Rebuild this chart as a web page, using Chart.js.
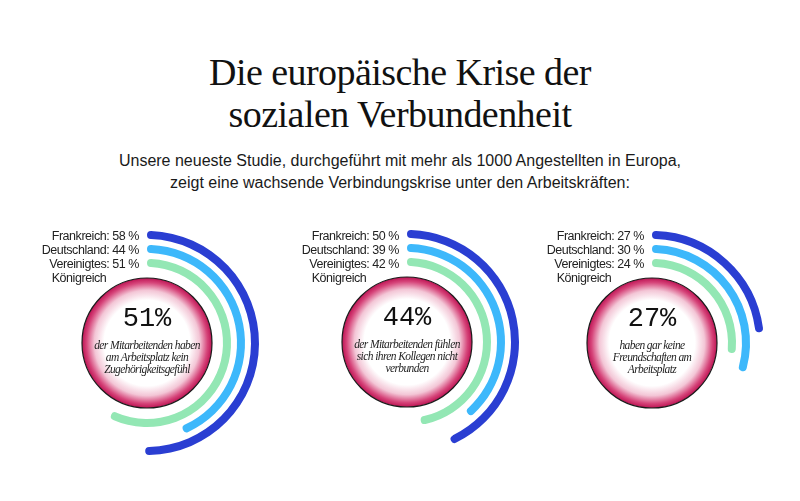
<!DOCTYPE html>
<html>
<head>
<meta charset="utf-8">
<script src="https://cdn.jsdelivr.net/npm/chart.js@4.4.0/dist/chart.umd.min.js"></script>
<style>
  html, body { margin: 0; padding: 0; background: #fff; }
  body { width: 800px; height: 501px; position: relative; overflow: hidden; }
  #title { position: absolute; left: 0; width: 800px; top: 51px; text-align: center;
    font-family: "Liberation Serif", "DejaVu Serif", serif; font-size: 38px; line-height: 42px;
    color: #111; letter-spacing: -0.55px; }
  #subtitle { position: absolute; left: 0; width: 800px; top: 150px; text-align: center;
    font-family: "Liberation Sans", Arial, sans-serif; font-size: 16px; line-height: 21.5px; color: #1a1a1a; }
  .chartbox { position: absolute; width: 240px; height: 240px; }
  .labels { position: absolute; font-family: "Liberation Sans", Arial, sans-serif; font-size: 12.5px;
    line-height: 14px; color: #222; white-space: nowrap; letter-spacing: -0.45px; }
  .labels .row { text-align: right; }
  .big { position: absolute; width: 120px; text-align: center; font-family: "Liberation Mono", monospace;
    font-size: 27px; line-height: 27px; color: #111; }
  .desc { position: absolute; width: 130px; text-align: center; font-family: "Liberation Serif", serif;
    font-style: italic; font-size: 11.5px; line-height: 12px; color: #222; letter-spacing: -0.6px; }
</style>
</head>
<body>
<div id="title">Die europäische Krise der<br>sozialen Verbundenheit</div>
<div id="subtitle">Unsere neueste Studie, durchgeführt mit mehr als 1000 Angestellten in Europa,<br>zeigt eine wachsende Verbindungskrise unter den Arbeitskräften:</div>
<script>
// ---- data ----
const countries = ['Frankreich', 'Deutschland', 'Vereinigtes Königreich'];
const belongingValues = [58, 44, 51];     // kein Zugehörigkeitsgefühl
const colleagueValues = [50, 39, 42];     // Kollegen nicht verbunden
const friendshipValues = [27, 30, 24];    // keine Freundschaften
const headlineValues = [51, 44, 27];
const descriptionLines = [
  ['der Mitarbeitenden haben', 'am Arbeitsplatz kein', 'Zugehörigkeitsgefühl'],
  ['der Mitarbeitenden fühlen', 'sich ihren Kollegen nicht', 'verbunden'],
  ['haben gar keine', 'Freundschaften am', 'Arbeitsplatz']
];
const seriesValues = [belongingValues, colleagueValues, friendshipValues];

// ---- style ----
const ringColors = ['#2a3ed2', '#3db8fb', '#93e7b4'];
const ringSweep = [312, 358, 405];   // degrees that 100 % spans on each ring
const centers = [[147, 343], [407, 342], [652, 343]];
const OUTER = 112, INNER = 76, RING = 8, GAP = 6, DISC = 65;

const discPlugin = {
  id: 'disc',
  beforeDatasetsDraw(chart) {
    const arc = chart.getDatasetMeta(0).data[0];
    const x = arc.x, y = arc.y, r = DISC;
    const ctx = chart.ctx;
    const g = ctx.createRadialGradient(x, y, 0, x, y, r);
    g.addColorStop(0, '#ffffff');
    g.addColorStop(0.66, '#ffffff');
    g.addColorStop(0.81, '#f3c6d6');
    g.addColorStop(0.93, '#d6457a');
    g.addColorStop(1, '#bd1454');
    ctx.save();
    ctx.beginPath();
    ctx.arc(x, y, r, 0, Math.PI * 2);
    ctx.fillStyle = g;
    ctx.fill();
    ctx.lineWidth = 1.2;
    ctx.strokeStyle = '#1b1b1b';
    ctx.stroke();
    ctx.restore();
  }
};

seriesValues.forEach((vals, gi) => {
  const [cx, cy] = centers[gi];
  const box = document.createElement('div');
  box.className = 'chartbox';
  box.style.left = (cx - 120) + 'px';
  box.style.top = (cy - 120) + 'px';
  const cv = document.createElement('canvas');
  cv.width = 240; cv.height = 240;
  box.appendChild(cv);
  document.body.appendChild(box);

  const datasets = [];
  vals.forEach((v, i) => {
    if (i > 0) datasets.push({ data: [1], backgroundColor: ['rgba(0,0,0,0)'], weight: GAP, borderWidth: 0 });
    datasets.push({
      label: countries[i],
      data: [v, 100 - v],
      backgroundColor: [ringColors[i], 'rgba(0,0,0,0)'],
      circumference: ringSweep[i],
      rotation: 0,
      borderRadius: RING / 2,
      borderWidth: 0,
      weight: RING
    });
  });

  new Chart(cv, {
    type: 'doughnut',
    data: { labels: ['Wert', 'Rest'], datasets },
    options: {
      responsive: false,
      animation: false,
      events: [],
      radius: OUTER,
      cutout: (INNER / OUTER * 100) + '%',
      layout: { padding: 0 },
      plugins: { legend: { display: false }, tooltip: { enabled: false } }
    },
    plugins: [discPlugin]
  });

  // labels
  const lab = document.createElement('div');
  lab.className = 'labels';
  const rows = [];
  countries.forEach((c, i) => {
    const parts = c.split(' ');
    const row = document.createElement('div');
    row.className = 'row';
    row.textContent = parts[0] + ': ' + vals[i] + ' %';
    lab.appendChild(row);
    rows.push(row);
    if (parts.length > 1) {
      const cont = document.createElement('div');
      cont.className = 'row';
      cont.textContent = parts.slice(1).join(' ');
      cont.dataset.cont = '1';
      lab.appendChild(cont);
      rows.push(cont);
    }
  });
  lab.style.right = (800 - (cx - 8)) + 'px';
  lab.style.top = '229px';
  document.body.appendChild(lab);
  const firstSpan = document.createElement('span');
  firstSpan.textContent = rows[0].textContent;
  rows[0].textContent = '';
  rows[0].appendChild(firstSpan);
  rows.forEach(r => {
    if (r.dataset.cont) {
      r.style.textAlign = 'left';
      r.style.paddingLeft = (firstSpan.getBoundingClientRect().left - lab.getBoundingClientRect().left) + 'px';
    }
  });

  // center texts
  const big = document.createElement('div');
  big.className = 'big';
  big.textContent = headlineValues[gi] + '%';
  big.style.left = (cx - 60) + 'px';
  big.style.top = (cy - 37) + 'px';
  document.body.appendChild(big);

  const desc = document.createElement('div');
  desc.className = 'desc';
  desc.innerHTML = descriptionLines[gi].join('<br>');
  desc.style.left = (cx - 65) + 'px';
  desc.style.top = (cy - 4) + 'px';
  document.body.appendChild(desc);
});
</script>
</body>
</html>
